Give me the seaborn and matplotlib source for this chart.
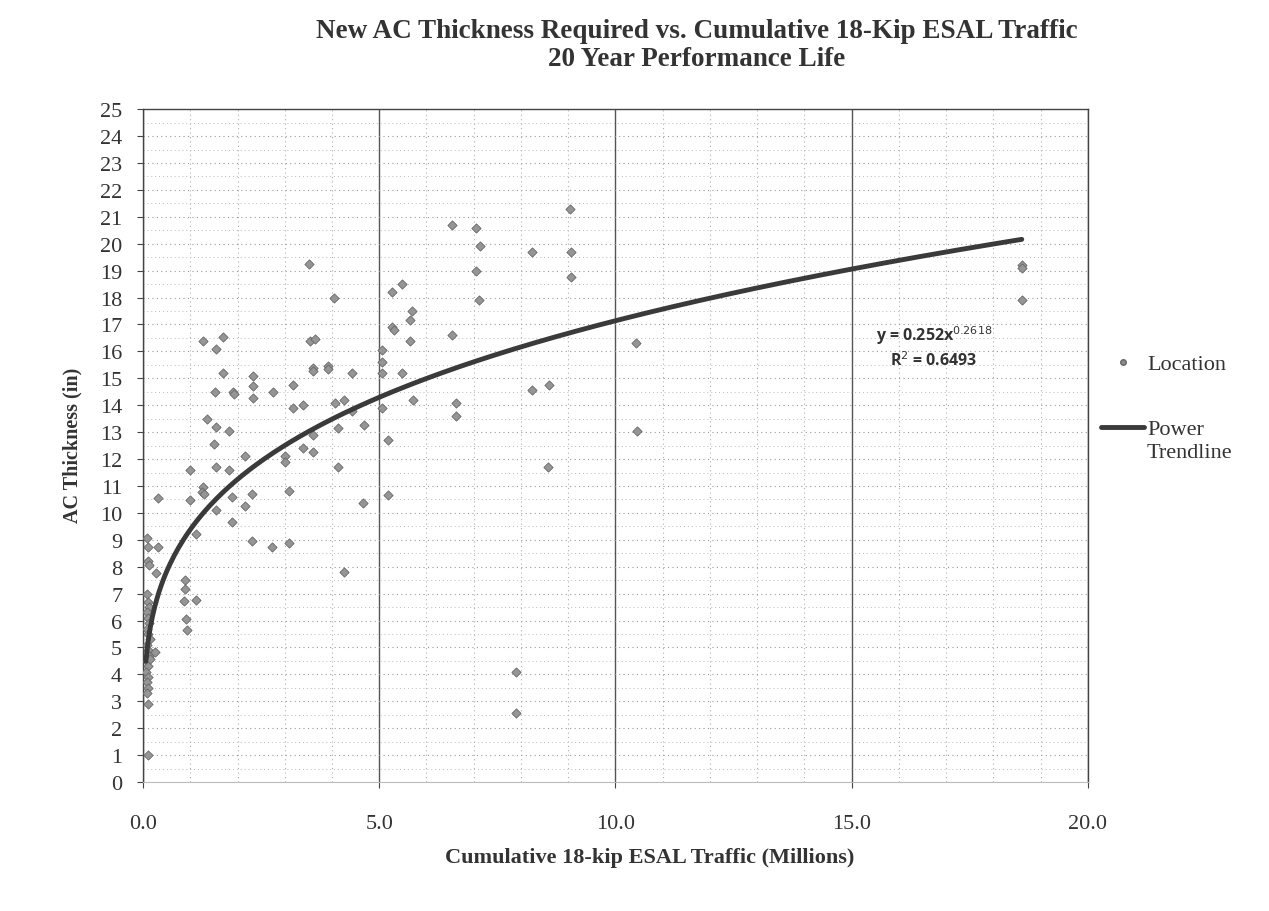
import numpy as np
import pandas as pd
import matplotlib
matplotlib.use("Agg")
import matplotlib.pyplot as plt
import seaborn as sns
from matplotlib.ticker import MultipleLocator
from matplotlib.lines import Line2D

# ---- data ----
esal_millions = [
    0.08, 0.10, 0.10, 0.12, 0.08, 0.10, 0.12, 0.08, 0.10, 0.12, 0.08, 0.10, 0.14,
    0.08, 0.10, 0.12, 0.08, 0.10, 0.06, 0.10, 0.08, 0.10, 0.08, 0.10, 0.10,
    0.32, 0.27, 0.25, 0.15, 0.32,
    0.89, 0.89, 0.87, 1.12, 0.91, 0.93, 1.00, 1.00, 1.12,
    1.27, 1.25, 1.29, 1.27, 1.35,
    1.55, 1.55, 1.50, 1.55, 1.53, 1.55,
    1.70, 1.70,
    1.82, 1.82, 1.88, 1.88, 1.90, 1.92,
    2.16, 2.16, 2.30, 2.30, 2.33, 2.33, 2.33,
    2.73, 2.75, 3.00, 3.00, 3.10, 3.10, 3.18, 3.18, 3.39, 3.39,
    3.52, 3.54, 3.64, 3.60, 3.60, 3.60, 3.60,
    3.92, 3.92, 4.05, 4.07, 4.13, 4.13, 4.26, 4.25,
    4.43, 4.43, 4.68, 4.66,
    5.06, 5.06, 5.06, 5.06,
    5.19, 5.19, 5.28, 5.28, 5.32,
    5.49, 5.49, 5.66, 5.66, 5.70, 5.72,
    6.55, 6.55, 6.63, 6.63, 7.05, 7.14, 7.05, 7.12,
    7.90, 7.90,
    8.24, 8.24, 8.60, 8.58,
    9.03, 9.05, 9.05,
    10.44, 10.46,
    18.60, 18.60, 18.60,
]
ac_thickness_in = [
    9.05, 8.75, 8.20, 8.05, 7.00, 6.70, 6.50, 6.30, 6.10, 5.90, 5.70, 5.50, 5.30,
    5.10, 4.90, 4.70, 4.50, 4.30, 4.10, 3.90, 3.70, 3.50, 3.30, 2.90, 1.00,
    8.73, 7.76, 4.83, 4.57, 10.55,
    7.50, 7.17, 6.72, 6.76, 6.05, 5.65, 11.60, 10.48, 9.20,
    10.95, 10.77, 10.70, 16.40, 13.50,
    11.70, 10.10, 12.55, 16.10, 14.50, 13.20,
    16.55, 15.20,
    13.05, 11.60, 10.60, 9.67, 14.50, 14.40,
    12.10, 10.25, 10.70, 8.95, 15.10, 14.70, 14.27,
    8.73, 14.50, 12.10, 11.90, 10.80, 8.90, 14.75, 13.90, 14.00, 12.40,
    19.25, 16.40, 16.45, 15.40, 15.27, 12.90, 12.25,
    15.45, 15.35, 18.00, 14.10, 11.70, 13.15, 14.20, 7.80,
    15.20, 13.80, 13.25, 10.35,
    16.05, 15.60, 15.20, 13.90,
    12.70, 10.65, 18.20, 16.90, 16.80,
    18.50, 15.20, 17.15, 16.40, 17.50, 14.20,
    20.70, 16.60, 14.10, 13.60, 20.60, 19.90, 19.00, 17.90,
    4.10, 2.55,
    19.70, 14.55, 14.75, 11.70,
    21.30, 19.70, 18.75,
    16.30, 13.05,
    19.20, 19.10, 17.90,
]
# power trendline as shown on the chart: y = a * ESAL^b (ESAL in raw units)
trend_a = 0.252
trend_b = 0.2618
trend_r2 = 0.6493

x_tick_labels = ["0.0", "5.0", "10.0", "15.0", "20.0"]
legend_labels = ["Location", "Power", "Trendline"]

df = pd.DataFrame({"esal": esal_millions, "thk": ac_thickness_in})
x_line = np.linspace(min(esal_millions), max(esal_millions), 400)
trend = pd.DataFrame({"esal": x_line, "thk": trend_a * (x_line * 1e6) ** trend_b})

sns.set_theme(style="white")
plt.rcParams["font.family"] = ["Liberation Serif", "DejaVu Serif"]

TXT = "#333333"
fig = plt.figure(figsize=(12.69, 9.12), dpi=100)
ax = fig.add_axes([0.1127, 0.1414, 0.7446, 0.7378])

# grid
ax.set_xlim(0, 20)
ax.set_ylim(0, 25)
ax.xaxis.set_major_locator(MultipleLocator(5))
ax.xaxis.set_minor_locator(MultipleLocator(1))
ax.yaxis.set_major_locator(MultipleLocator(1))
ax.yaxis.set_minor_locator(MultipleLocator(0.5))
ax.grid(True, axis="x", which="major", color="#555555", linewidth=1.0, linestyle="-")
ax.grid(True, axis="x", which="minor", color="#b0b0b0", linewidth=0.8, linestyle=(0, (1, 3)))
ax.grid(True, axis="y", which="major", color="#999999", linewidth=0.8, linestyle=(0, (1, 3)))
ax.grid(True, axis="y", which="minor", color="#bbbbbb", linewidth=0.7, linestyle=(0, (1, 3)))
ax.set_axisbelow(True)

sns.scatterplot(data=df, x="esal", y="thk", ax=ax, marker="D", s=22,
                color="#959595", edgecolor="#666666", linewidth=0.6, zorder=3, legend=False)
sns.lineplot(data=trend, x="esal", y="thk", ax=ax, color="#3a3a3a", linewidth=3.5,
             zorder=4, legend=False)

for side in ["left", "top", "right"]:
    ax.spines[side].set_color("#444444")
    ax.spines[side].set_linewidth(1.0)
ax.spines["bottom"].set_color("#bbbbbb")
ax.spines["bottom"].set_linewidth(0.8)

ax.tick_params(axis="y", which="major", direction="out", length=4, width=0.8,
               color="#444444", labelsize=16, pad=11, left=True)
ax.tick_params(axis="y", which="minor", length=0, left=False)
ax.tick_params(axis="x", which="major", direction="out", length=4, width=0.8,
               color="#444444", labelsize=16, pad=19, bottom=True)
ax.tick_params(axis="x", which="minor", length=0, bottom=False)
ax.set_xticks([0, 5, 10, 15, 20])
ax.set_xticklabels(x_tick_labels, color=TXT)
ax.set_yticks(range(0, 26))
ax.set_yticklabels([str(v) for v in range(0, 26)], color=TXT)

ax.set_xlabel("Cumulative 18-kip ESAL Traffic (Millions)", fontsize=16,
              fontweight="bold", color=TXT)
ax.xaxis.label.set_va("center")
ax.xaxis.set_label_coords(0.536, -0.111)
ax.set_ylabel("AC Thickness (in)", fontsize=14.5, fontweight="bold", color=TXT)
ax.yaxis.label.set_va("center")
ax.yaxis.set_label_coords(-0.075, 0.502)

fig.text(0.549, 0.965, "New AC Thickness Required vs. Cumulative 18-Kip ESAL Traffic",
         ha="center", va="center", fontsize=19.5, fontweight="bold", color=TXT)
fig.text(0.549, 0.935, "20 Year Performance Life",
         ha="center", va="center", fontsize=19.5, fontweight="bold", color=TXT)

ax.text(16.74, 16.2, r"y = 0.252x$^{0.2618}$" + "\n" + r"R$^{2}$ = 0.6493",
        ha="center", va="center", fontsize=11.5, fontweight="bold",
        family=["Open Sans", "DejaVu Sans"], color=TXT, linespacing=1.25,
        zorder=5)

handles = [
    Line2D([], [], marker="o", linestyle="none", markersize=4,
           markerfacecolor="#8a8a8a", markeredgecolor="#666666"),
    Line2D([], [], color="#3a3a3a", linewidth=3.5),
]
leg = fig.legend(handles, legend_labels[:2], loc="upper left",
                 bbox_to_anchor=(0.868, 0.611), frameon=False, fontsize=16,
                 handlelength=1.9, handletextpad=0.15, labelspacing=2.0,
                 borderaxespad=0, borderpad=0)
for t in leg.get_texts():
    t.set_color(TXT)

# second line of the trendline label, placed under "Power"
fig.canvas.draw()
power_txt = leg.get_texts()[1]
bb = power_txt.get_window_extent().transformed(fig.transFigure.inverted())
fig.text(bb.x0, bb.y0 - 0.004, legend_labels[2], ha="left", va="top",
         fontsize=16, color=TXT)

fig.savefig("out.png", dpi=100, facecolor="white")
